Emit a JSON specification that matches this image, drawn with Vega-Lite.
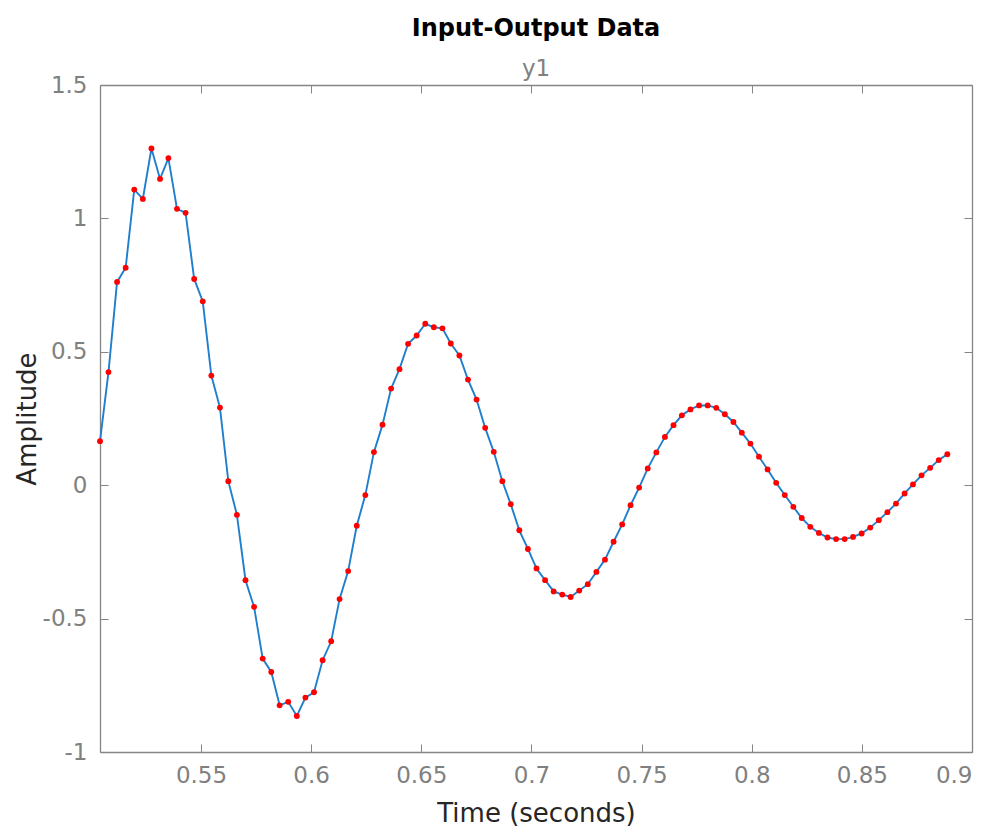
{
  "$schema": "https://vega.github.io/schema/vega-lite/v6.json",
  "width": 872,
  "height": 667,
  "autosize": {"type": "none"},
  "padding": {"left": 100, "top": 85, "right": 15, "bottom": 78},
  "background": "white",
  "config": {"view": {"stroke": null}, "font": "DejaVu Sans"},
  "title": {
    "text": "Input-Output Data",
    "subtitle": "y1",
    "anchor": "middle",
    "frame": "group",
    "font": "DejaVu Sans",
    "fontSize": 24,
    "fontWeight": "bold",
    "color": "#000000",
    "subtitleFont": "DejaVu Sans",
    "subtitleFontSize": 23,
    "subtitleColor": "#808080",
    "subtitlePadding": 17,
    "offset": -7
  },
  "data": {
    "values": [
      {"t": 0.50415, "y": 0.165}, {"t": 0.5080, "y": 0.424}, {"t": 0.5119, "y": 0.762}, {"t": 0.5158, "y": 0.815},
      {"t": 0.5197, "y": 1.108}, {"t": 0.5236, "y": 1.073}, {"t": 0.5275, "y": 1.262}, {"t": 0.5314, "y": 1.148},
      {"t": 0.5352, "y": 1.226}, {"t": 0.5391, "y": 1.036}, {"t": 0.5430, "y": 1.021}, {"t": 0.5469, "y": 0.773},
      {"t": 0.5508, "y": 0.689}, {"t": 0.5547, "y": 0.411}, {"t": 0.5586, "y": 0.291}, {"t": 0.5624, "y": 0.015},
      {"t": 0.5663, "y": -0.111}, {"t": 0.5702, "y": -0.356}, {"t": 0.5741, "y": -0.456}, {"t": 0.5780, "y": -0.650},
      {"t": 0.5819, "y": -0.700}, {"t": 0.5857, "y": -0.825}, {"t": 0.5896, "y": -0.812}, {"t": 0.5935, "y": -0.865},
      {"t": 0.5974, "y": -0.796}, {"t": 0.6013, "y": -0.776}, {"t": 0.6052, "y": -0.656}, {"t": 0.6091, "y": -0.585},
      {"t": 0.6129, "y": -0.427}, {"t": 0.6168, "y": -0.322}, {"t": 0.6207, "y": -0.152}, {"t": 0.6246, "y": -0.037},
      {"t": 0.6285, "y": 0.124}, {"t": 0.6324, "y": 0.227}, {"t": 0.6363, "y": 0.362}, {"t": 0.6401, "y": 0.435},
      {"t": 0.6440, "y": 0.530}, {"t": 0.6479, "y": 0.561}, {"t": 0.6518, "y": 0.605}, {"t": 0.6557, "y": 0.592},
      {"t": 0.6596, "y": 0.588}, {"t": 0.6634, "y": 0.531}, {"t": 0.6673, "y": 0.486}, {"t": 0.6712, "y": 0.396},
      {"t": 0.6751, "y": 0.321}, {"t": 0.6790, "y": 0.215}, {"t": 0.6829, "y": 0.125}, {"t": 0.6868, "y": 0.015},
      {"t": 0.6906, "y": -0.071}, {"t": 0.6945, "y": -0.169}, {"t": 0.6984, "y": -0.239}, {"t": 0.7023, "y": -0.312},
      {"t": 0.7062, "y": -0.356}, {"t": 0.7101, "y": -0.398}, {"t": 0.7140, "y": -0.410}, {"t": 0.7178, "y": -0.419},
      {"t": 0.7217, "y": -0.395}, {"t": 0.7256, "y": -0.371}, {"t": 0.7295, "y": -0.325}, {"t": 0.7334, "y": -0.279},
      {"t": 0.7373, "y": -0.212}, {"t": 0.7412, "y": -0.147}, {"t": 0.7450, "y": -0.075}, {"t": 0.7489, "y": -0.009},
      {"t": 0.7528, "y": 0.063}, {"t": 0.7567, "y": 0.123}, {"t": 0.7606, "y": 0.181}, {"t": 0.7645, "y": 0.225},
      {"t": 0.7683, "y": 0.262}, {"t": 0.7722, "y": 0.284}, {"t": 0.7761, "y": 0.299}, {"t": 0.7800, "y": 0.299},
      {"t": 0.7839, "y": 0.290}, {"t": 0.7878, "y": 0.266}, {"t": 0.7917, "y": 0.237}, {"t": 0.7955, "y": 0.197},
      {"t": 0.7994, "y": 0.156}, {"t": 0.8033, "y": 0.107}, {"t": 0.8072, "y": 0.059}, {"t": 0.8111, "y": 0.009},
      {"t": 0.8150, "y": -0.037}, {"t": 0.8189, "y": -0.081}, {"t": 0.8227, "y": -0.123}, {"t": 0.8266, "y": -0.156},
      {"t": 0.8305, "y": -0.179}, {"t": 0.8344, "y": -0.196}, {"t": 0.8383, "y": -0.202}, {"t": 0.8422, "y": -0.202},
      {"t": 0.8460, "y": -0.194}, {"t": 0.8499, "y": -0.181}, {"t": 0.8538, "y": -0.159}, {"t": 0.8577, "y": -0.131},
      {"t": 0.8616, "y": -0.101}, {"t": 0.8655, "y": -0.069}, {"t": 0.8694, "y": -0.031}, {"t": 0.8732, "y": 0.003},
      {"t": 0.8771, "y": 0.037}, {"t": 0.8810, "y": 0.065}, {"t": 0.8849, "y": 0.094}, {"t": 0.8888, "y": 0.116}
    ]
  },
  "layer": [
    {
      "mark": {"type": "line", "color": "#1f7fcc", "strokeWidth": 1.9},
      "encoding": {
        "x": {
          "field": "t", "type": "quantitative",
          "scale": {"domain": [0.50415, 0.9], "nice": false, "zero": false},
          "axis": {
            "orient": "bottom", "title": "Time (seconds)",
            "values": [0.55, 0.6, 0.65, 0.7, 0.75, 0.8, 0.85, 0.9],
            "labelExpr": "toString(datum.value)",
            "grid": false, "tickSize": -8, "labelPadding": 20,
            "domainColor": "#858585", "tickColor": "#858585", "domainWidth": 1.3,
            "labelColor": "#808080", "labelFont": "DejaVu Sans", "labelFontSize": 23,
            "titleColor": "#262626", "titleFont": "DejaVu Sans", "titleFontSize": 26, "titleFontWeight": "normal",
            "titlePadding": 13
          }
        },
        "y": {
          "field": "y", "type": "quantitative",
          "scale": {"domain": [-1, 1.5], "nice": false, "zero": false},
          "axis": {
            "orient": "left", "title": "Amplitude",
            "values": [-1, -0.5, 0, 0.5, 1, 1.5],
            "labelExpr": "toString(datum.value)",
            "grid": false, "tickSize": -8, "labelPadding": 21,
            "domainColor": "#858585", "tickColor": "#858585", "domainWidth": 1.3,
            "labelColor": "#808080", "labelFont": "DejaVu Sans", "labelFontSize": 23,
            "titleColor": "#262626", "titleFont": "DejaVu Sans", "titleFontSize": 26, "titleFontWeight": "normal",
            "titlePadding": 2
          }
        }
      }
    },
    {
      "mark": {"type": "point", "filled": true, "color": "#ff0000", "size": 34, "opacity": 1},
      "encoding": {
        "x": {
          "field": "t", "type": "quantitative",
          "scale": {"domain": [0.50415, 0.9], "nice": false, "zero": false},
          "axis": {
            "orient": "top", "title": null, "labels": false,
            "values": [0.55, 0.6, 0.65, 0.7, 0.75, 0.8, 0.85, 0.9],
            "grid": false, "tickSize": -8,
            "domainColor": "#858585", "tickColor": "#858585", "domainWidth": 1.3
          }
        },
        "y": {
          "field": "y", "type": "quantitative",
          "scale": {"domain": [-1, 1.5], "nice": false, "zero": false},
          "axis": {
            "orient": "right", "title": null, "labels": false,
            "values": [-1, -0.5, 0, 0.5, 1, 1.5],
            "grid": false, "tickSize": -8,
            "domainColor": "#858585", "tickColor": "#858585", "domainWidth": 1.3
          }
        }
      }
    }
  ],
  "resolve": {"axis": {"x": "independent", "y": "independent"}}
}
